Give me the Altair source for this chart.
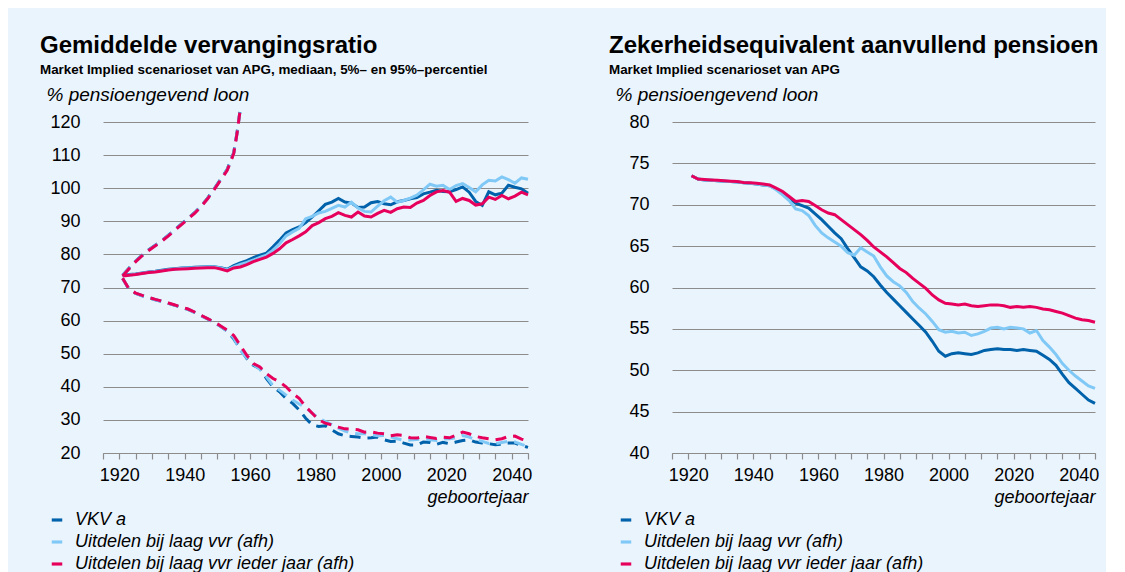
import altair as alt
import pandas as pd

# ---------------- data ----------------
YEARS = list(range(1921, 2046, 2))
P95_YEARS = list(range(1921, 1954, 2)) + [1955, 1956, 1957]

SERIES = ["VKV a", "Uitdelen bij laag vvr (afh)", "Uitdelen bij laag vvr ieder jaar (afh)"]
COLORS = ["#0062AA", "#80C9F6", "#E6005C"]

# Left panel: median replacement ratio
L_MED_VKV = [73.7, 73.9, 74.1, 74.4, 74.7, 74.9, 75.2, 75.5, 75.7, 75.9, 76.0, 76.1, 76.2, 76.3, 76.3, 76.0, 75.5,
             76.6, 77.4, 78.1, 79.0, 79.8, 80.4, 82.3, 84.3, 86.5, 87.5, 88.3, 89.6, 91.3, 93.2, 95.1, 95.8, 96.9,
             95.8, 95.5, 94.2, 94.3, 95.6, 96.0, 95.3, 95.0, 95.9, 96.3, 96.8, 97.2, 98.3, 98.8, 99.4, 99.0, 98.9,
             99.6, 100.4, 98.8, 96.0, 94.8, 98.9, 98.0, 98.5, 100.9, 100.3, 99.8, 98.5]
L_MED_LAAG = [73.6, 73.8, 74.0, 74.3, 74.6, 74.8, 75.1, 75.4, 75.6, 75.8, 75.9, 76.0, 76.1, 76.2, 76.2, 75.9, 75.3,
              76.2, 77.0, 77.6, 78.3, 79.1, 79.8, 81.3, 83.2, 85.6, 86.8, 87.9, 90.8, 91.5, 92.5, 93.0, 93.9, 94.8,
              94.3, 95.8, 94.0, 93.0, 92.8, 94.6, 96.2, 97.3, 95.8, 96.3, 97.0, 97.9, 99.5, 101.2, 100.6, 100.9, 99.6,
              100.8, 101.4, 100.2, 98.9, 101.0, 102.4, 102.2, 103.4, 102.6, 101.5, 103.1, 102.7]
L_MED_IEDER = [73.5, 73.7, 73.9, 74.2, 74.5, 74.7, 75.0, 75.3, 75.5, 75.6, 75.7, 75.8, 75.9, 76.0, 76.0, 75.6, 75.0,
               75.9, 76.2, 76.9, 77.8, 78.5, 79.2, 80.3, 81.7, 83.5, 84.5, 85.6, 86.8, 88.7, 89.6, 90.8, 91.5, 92.6,
               91.8, 91.3, 92.8, 91.6, 91.3, 92.4, 93.3, 92.7, 93.8, 94.3, 94.2, 95.5, 96.3, 97.8, 98.9, 99.3, 98.8,
               96.0, 96.9, 96.3, 94.9, 95.3, 97.3, 96.6, 97.8, 96.8, 97.6, 98.8, 98.0]

# Left panel: 95th percentile (leaves the chart around 1957)
L_P95_VKV = [73.7, 75.9, 78.0, 79.8, 81.4, 82.8, 84.2, 85.8, 87.5, 89.2, 90.9, 92.6, 94.6, 97.0, 99.8, 102.7, 105.7,
             110.8, 116.8, 124.0]
L_P95_LAAG = [73.6, 75.8, 77.9, 79.7, 81.3, 82.7, 84.1, 85.7, 87.4, 89.1, 90.8, 92.5, 94.5, 96.9, 99.7, 102.6, 105.6,
              110.6, 116.6, 124.0]
L_P95_IEDER = [73.5, 75.7, 77.8, 79.6, 81.2, 82.6, 84.0, 85.6, 87.3, 89.0, 90.7, 92.4, 94.4, 96.8, 99.6, 102.5, 105.4,
               110.5, 116.5, 124.0]

# Left panel: 5th percentile
L_P5_VKV = [72.7, 69.4, 68.2, 67.5, 66.9, 66.3, 65.8, 65.2, 64.6, 64.0, 63.4, 62.5, 61.5, 60.5, 59.5, 58.2, 56.8,
            54.5, 51.5, 48.5, 46.5, 45.5, 42.5, 40.0, 38.5, 36.5, 35.0, 33.0, 30.5, 28.5, 28.0, 28.2, 27.0, 25.8,
            25.2, 25.0, 24.8, 24.5, 24.6, 24.8, 24.0, 23.5, 23.6, 23.0, 22.4, 22.4, 23.3, 23.2, 22.6, 23.2, 22.8,
            23.3, 23.8, 24.0, 23.3, 23.0, 22.8, 22.5, 22.7, 23.0, 23.0, 22.3, 21.7]
L_P5_LAAG = [72.7, 69.4, 68.2, 67.5, 66.9, 66.3, 65.8, 65.2, 64.6, 64.0, 63.4, 62.5, 61.5, 60.5, 59.5, 58.2, 56.9,
             54.8, 51.0, 48.7, 46.8, 45.3, 43.0, 40.3, 39.0, 37.5, 36.0, 34.8, 33.8, 32.0, 30.5, 29.5, 28.6, 27.5,
             26.6, 26.0, 25.8, 25.8, 25.5, 25.2, 25.3, 24.8, 24.3, 23.8, 23.9, 24.1, 24.2, 24.0, 23.8, 24.2, 24.3,
             24.6, 25.3, 24.8, 24.0, 23.5, 22.9, 22.8, 23.2, 23.5, 23.3, 22.6, 22.0]
L_P5_IEDER = [72.8, 69.5, 68.3, 67.6, 67.0, 66.4, 65.9, 65.3, 64.7, 64.1, 63.5, 62.6, 61.6, 60.6, 59.6, 58.4, 57.1,
              55.5, 52.5, 49.5, 47.0, 46.0, 44.0, 42.5, 41.5, 40.0, 38.0, 36.5, 34.0, 32.0, 30.0, 29.0, 28.5, 27.8,
              27.3, 27.2, 27.0, 26.3, 26.4, 26.0, 25.8, 25.2, 25.5, 25.3, 24.6, 24.5, 25.0, 24.7, 24.4, 24.8, 24.6,
              25.4, 26.3, 25.8, 25.0, 24.6, 24.3, 24.0, 24.3, 25.0, 25.1, 24.2, 23.6]

# Right panel: certainty equivalent
R_VKV = [73.5, 73.1, 73.0, 72.95, 72.9, 72.85, 72.8, 72.75, 72.65, 72.6, 72.5, 72.4, 72.3, 71.9, 71.4, 70.8, 70.2,
         69.9, 69.6, 68.9, 68.2, 67.4, 66.6, 65.9, 64.7, 63.6, 62.5, 62.0, 61.3, 60.3, 59.4, 58.6, 57.8, 57.0,
         56.2, 55.4, 54.6, 53.5, 52.3, 51.7, 52.0, 52.1, 52.0, 51.9, 52.1, 52.4, 52.5, 52.6, 52.5, 52.5, 52.4,
         52.5, 52.4, 52.3, 51.8, 51.3, 50.6, 49.5, 48.5, 47.8, 47.1, 46.4, 46.0]
R_LAAG = [73.5, 73.1, 73.0, 72.95, 72.9, 72.85, 72.8, 72.75, 72.65, 72.6, 72.5, 72.4, 72.3, 71.8, 71.2, 70.5, 69.5,
          69.3, 68.7, 67.5, 66.6, 66.0, 65.5, 65.0, 64.2, 63.9, 64.8, 64.3, 63.8, 62.5, 61.4, 60.7, 60.2, 59.4,
          58.3, 57.5, 56.8, 55.9, 54.9, 54.6, 54.7, 54.5, 54.6, 54.2, 54.4, 54.7, 55.1, 55.2, 55.0, 55.2, 55.1,
          55.0, 54.5, 54.8, 53.6, 52.8, 51.9, 50.8, 50.0, 49.3, 48.7, 48.1, 47.8]
R_IEDER = [73.5, 73.1, 73.05, 73.0, 72.95, 72.9, 72.85, 72.8, 72.7, 72.65, 72.6, 72.5, 72.4, 72.0, 71.6, 71.0, 70.4,
           70.5, 70.4, 69.9, 69.4, 69.0, 68.8, 68.2, 67.6, 67.0, 66.4, 65.7, 64.9, 64.3, 63.7, 63.0, 62.3, 61.8,
           61.1, 60.5, 59.9, 59.1, 58.5, 58.1, 58.0, 57.9, 58.0, 57.8, 57.7, 57.8, 57.9, 57.9, 57.8, 57.6, 57.7,
           57.6, 57.7, 57.6, 57.4, 57.3, 57.1, 56.9, 56.6, 56.3, 56.1, 56.0, 55.8]

X_TICKS = list(range(1915, 2046, 5))
L_Y_TICKS = list(range(20, 121, 10))
R_Y_TICKS = list(range(40, 81, 5))


def rows(years, series_vals, band):
    out = []
    for name, vals in zip(SERIES, series_vals):
        for yr, v in zip(years, vals):
            out.append({"year": yr, "value": v, "series": name, "band": band})
    return out


left_df = pd.DataFrame(
    rows(YEARS, [L_MED_VKV, L_MED_LAAG, L_MED_IEDER], "med")
    + rows(YEARS, [L_P5_VKV, L_P5_LAAG, L_P5_IEDER], "p5")
    + rows(P95_YEARS, [L_P95_VKV, L_P95_LAAG, L_P95_IEDER], "p95")
)
right_df = pd.DataFrame(rows(YEARS, [R_VKV, R_LAAG, R_IEDER], "med"))

FONT = "Liberation Sans"
GRID = "#8C8C8C"
BAR_SHAPE = "M-1,-0.3H1V0.3H-1Z"


def make_panel(df, bands, ydomain, yticks, width, title, subtitle):
    x = alt.X(
        "year:Q",
        scale=alt.Scale(domain=[1915, 2045], nice=False, zero=False),
        axis=alt.Axis(
            values=X_TICKS, format="d",
            labelExpr="datum.value % 20 == 0 ? datum.label : ''",
            grid=False, domain=True, domainColor=GRID, domainWidth=1.2,
            ticks=True, tickSize=6, tickColor=GRID, tickWidth=1.2,
            labelPadding=7, labelFlush=False, labelOverlap=False,
            title="geboortejaar", titleFontStyle="italic", titleFontWeight="normal",
            titleFontSize=18, titleAlign="right", titleX=width, titleY=49,
            titleBaseline="alphabetic",
        ),
    )
    y = alt.Y(
        "value:Q",
        scale=alt.Scale(domain=ydomain, nice=False, zero=False),
        axis=alt.Axis(
            values=yticks, grid=True, gridColor=GRID, gridWidth=1.2,
            ticks=False, domain=False, labelPadding=23,
            title="% pensioengevend loon", titleAngle=0, titleAlign="left",
            titleX=-57, titleY=-22, titleBaseline="alphabetic",
            titleFontStyle="italic", titleFontWeight="normal", titleFontSize=19,
        ),
    )
    cscale = alt.Scale(domain=SERIES, range=COLORS)
    color_leg = alt.Color(
        "series:N",
        scale=cscale,
        legend=alt.Legend(
            orient="none", legendX=-55, legendY=389, direction="vertical",
            title=None, symbolType=BAR_SHAPE, symbolStrokeWidth=0, symbolSize=110,
            labelFontSize=18, labelFontStyle="italic", labelColor="black",
            labelFont=FONT, labelOffset=9, rowPadding=4, padding=0, labelLimit=0,
        ),
    )
    color_noleg = alt.Color("series:N", scale=cscale, legend=None)
    stroke_dash = alt.Stroke("series:N", scale=alt.Scale(domain=SERIES, range=COLORS), legend=None)

    base = alt.Chart(df)
    layers = [
        # legend carrier: no rows pass the filter, only the legend is drawn
        base.transform_filter("false")
        .mark_point(filled=True, shape=BAR_SHAPE, size=110, opacity=1, strokeWidth=0)
        .encode(x=x, y=y, color=color_leg),
        base.transform_filter(alt.datum.band == "med")
        .mark_line(strokeWidth=3)
        .encode(x=x, y=y, color=color_noleg),
    ]
    for b in bands:
        layers.append(
            base.transform_filter(alt.datum.band == b)
            .mark_line(strokeWidth=3, strokeDash=[11, 7])
            .encode(x=x, y=y, stroke=stroke_dash)
        )
    return alt.layer(*layers).properties(
        width=width, height=331,
        title=alt.TitleParams(
            text=title, subtitle=subtitle, anchor="start", frame="group", dx=-63,
            fontSize=24, fontWeight="bold", font=FONT, color="black",
            subtitleFontSize=13.4, subtitleFontWeight="bold", subtitleFont=FONT,
            subtitleColor="black", subtitlePadding=5, offset=9,
        ),
    )


left = make_panel(
    left_df, ["p5", "p95"], [20, 120], L_Y_TICKS, 425,
    "Gemiddelde vervangingsratio",
    "Market Implied scenarioset van APG, mediaan, 5%\u2013 en 95%\u2013percentiel",
)
right = make_panel(
    right_df, [], [40, 80], R_Y_TICKS, 423,
    "Zekerheidsequivalent aanvullend pensioen",
    "Market Implied scenarioset van APG",
)

chart = (
    alt.hconcat(left, right, spacing=75)
    .resolve_scale(color="independent", stroke="independent")
    .resolve_legend(color="independent")
    .properties(background="#EAF4FD", padding={"left": 32, "top": 25, "right": 5, "bottom": 5})
    .configure_view(stroke=None)
    .configure_axis(labelFont=FONT, titleFont=FONT, labelFontSize=18, labelColor="black",
                    titleColor="black")
)

chart.save("out.html", embed_options={"renderer": "svg", "actions": False})
